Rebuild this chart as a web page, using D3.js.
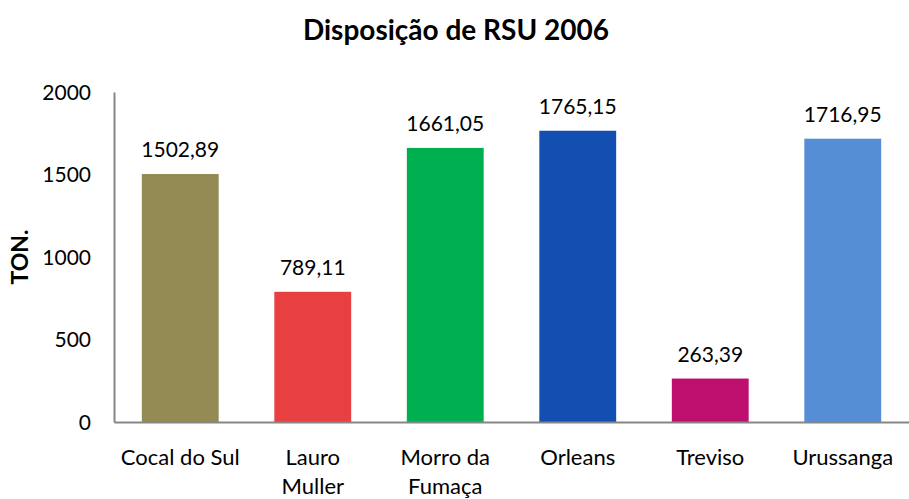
<!DOCTYPE html>
<html>
<head>
<meta charset="utf-8">
<script src="https://cdn.jsdelivr.net/npm/d3@7"></script>
<style>
  body { margin: 0; background: #fff; }
  svg text { font-family: Lato, "Open Sans", sans-serif; fill: #000; }
</style>
</head>
<body>
<div id="chart"></div>
<script>
// data
const cities = ["Cocal do Sul", "Lauro Muller", "Morro da Fumaça", "Orleans", "Treviso", "Urussanga"];
const cityLines = [["Cocal do Sul"], ["Lauro", "Muller"], ["Morro da", "Fumaça"], ["Orleans"], ["Treviso"], ["Urussanga"]];
const tons = [1502.89, 789.11, 1661.05, 1765.15, 263.39, 1716.95];
const barColors = ["#948A54", "#E84040", "#00B050", "#134FB0", "#BF0F6E", "#558ED5"];
const yTicks = [0, 500, 1000, 1500, 2000];

const W = 909, H = 499;
const margin = { top: 92, right: 0, bottom: 77, left: 114 };

const svg = d3.select("#chart").append("svg")
  .attr("width", W)
  .attr("height", H);

const x = d3.scaleBand()
  .domain(cities)
  .range([margin.left, W - margin.right])
  .padding(0);

const y = d3.scaleLinear()
  .domain([0, 2000])
  .range([H - margin.bottom, margin.top]);

const barW = x.bandwidth() * 0.58;

// title
svg.append("text")
  .attr("x", 456)
  .attr("y", 40)
  .attr("text-anchor", "middle")
  .style("font-size", "28px")
  .style("font-weight", "bold")
  .text("Disposição de RSU 2006");

// y axis label
svg.append("text")
  .attr("transform", "translate(28," + y(1000) + ") rotate(-90)")
  .attr("text-anchor", "middle")
  .style("font-size", "23px")
  .style("font-weight", "bold")
  .text("TON.");

// bars
svg.selectAll("rect.bar")
  .data(tons)
  .enter().append("rect")
  .attr("class", "bar")
  .attr("x", (d, i) => x(cities[i]) + (x.bandwidth() - barW) / 2)
  .attr("y", d => y(d))
  .attr("width", barW)
  .attr("height", d => y(0) - y(d))
  .attr("fill", (d, i) => barColors[i]);

// value labels
svg.selectAll("text.val")
  .data(tons)
  .enter().append("text")
  .attr("class", "val")
  .attr("x", (d, i) => x(cities[i]) + x.bandwidth() / 2)
  .attr("y", d => y(d) - 17)
  .attr("text-anchor", "middle")
  .style("font-size", "21px")
  .text(d => d3.format(".2f")(d).replace(".", ","));

// y axis
const yAxis = svg.append("g")
  .attr("transform", "translate(" + margin.left + ",0)")
  .call(d3.axisLeft(y).tickValues(yTicks).tickSize(0).tickPadding(23).tickFormat(d3.format("d")));
yAxis.select(".domain").attr("stroke", "#868686").attr("stroke-width", 2);
yAxis.selectAll("text").style("font-size", "21px").attr("dy", "0.35em");

// x axis
const xAxis = svg.append("g")
  .attr("transform", "translate(0," + y(0) + ")")
  .call(d3.axisBottom(x).tickSize(0).tickFormat(""));
xAxis.select(".domain").attr("stroke", "#868686").attr("stroke-width", 2);

xAxis.selectAll(".tick").each(function(d, i) {
  const t = d3.select(this).append("text")
    .attr("text-anchor", "middle")
    .style("font-size", "22px");
  cityLines[i].forEach((ln, j) => {
    t.append("tspan").attr("x", 0).attr("y", 43 + j * 29).text(ln);
  });
});
</script>
</body>
</html>
